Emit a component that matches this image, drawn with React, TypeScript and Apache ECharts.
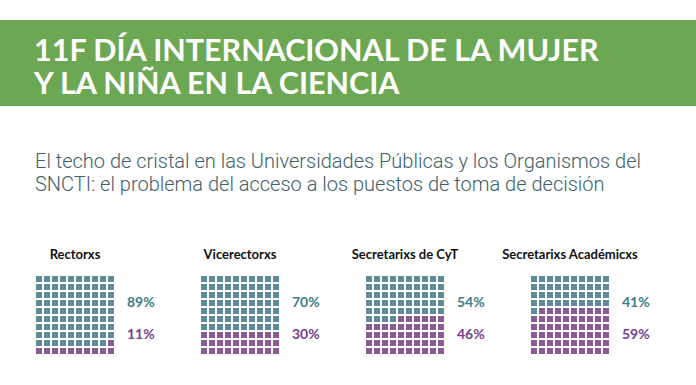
import React, { useEffect, useRef } from "react";
import * as echarts from "echarts";

const categories = ["Rectorxs", "Vicerectorxs", "Secretarixs de CyT", "Secretarixs Académicxs"];
const menPct = [89, 70, 54, 41];
const womenPct = [11, 30, 46, 59];
const titleLines = ["11F DÍA INTERNACIONAL DE LA MUJER", "Y LA NIÑA EN LA CIENCIA"];
const subtitleLines = [
  "El techo de cristal en las Universidades Públicas y los Organismos del",
  "SNCTI: el problema del acceso a los puestos de toma de decisión",
];

const TEAL = "#35707e";
const PURPLE = "#6b3579";
const TEAL_TEXT = "#3d7d8b";
const PURPLE_TEXT = "#773d8c";
const GREEN = "#6ca853";

export default function App() {
  const ref = useRef<HTMLDivElement>(null);
  useEffect(() => {
    if (!ref.current) return;
    const chart = echarts.init(ref.current, null, { renderer: "svg" });
    const grids: any[] = [];
    const xAxes: any[] = [];
    const yAxes: any[] = [];
    const series: any[] = [];
    const graphics: any[] = [];
    const gx0 = 35;
    const step = 165;
    const gTop = 275;
    const gSize = 80;
    categories.forEach((cat, i) => {
      const left = gx0 + i * step;
      grids.push({ left, top: gTop, width: gSize, height: gSize });
      xAxes.push({ type: "value", gridIndex: i, min: -0.5, max: 9.5, show: false });
      yAxes.push({ type: "value", gridIndex: i, min: -0.5, max: 9.5, show: false });
      const data: any[] = [];
      for (let r = 0; r < 10; r++) {
        for (let c = 0; c < 10; c++) {
          // r = 0 bottom row; fill women from bottom-right
          const k = r * 10 + (9 - c);
          const isWoman = k < womenPct[i];
          data.push({ value: [c, r], itemStyle: { color: isWoman ? PURPLE : TEAL } });
        }
      }
      series.push({
        type: "scatter",
        xAxisIndex: i,
        yAxisIndex: i,
        symbol: "rect",
        symbolSize: 6,
        data,
        silent: true,
      });
      graphics.push({
        type: "text",
        x: left + gSize / 2,
        y: 254,
        style: {
          text: cat,
          fill: "#111",
          font: "bold 13px Lato",
          textAlign: "center",
          textVerticalAlign: "middle",
        },
      });
      graphics.push({
        type: "text",
        x: left + 92,
        y: 301,
        style: {
          text: menPct[i] + "%",
          fill: TEAL_TEXT,
          font: "bold 14px Lato",
          textAlign: "left",
          textVerticalAlign: "middle",
        },
      });
      graphics.push({
        type: "text",
        x: left + 92,
        y: 333,
        style: {
          text: womenPct[i] + "%",
          fill: PURPLE_TEXT,
          font: "bold 14px Lato",
          textAlign: "left",
          textVerticalAlign: "middle",
        },
      });
    });
    graphics.unshift({
      type: "rect",
      shape: { x: 0, y: 20, width: 696, height: 86 },
      style: { fill: GREEN },
      z: -1,
    });
    titleLines.forEach((t, j) => {
      graphics.push({
        type: "text",
        x: 34,
        y: 49 + j * 33,
        style: {
          text: t,
          fill: "#ffffff",
          font: "bold 30.5px Lato",
          textAlign: "left",
          textVerticalAlign: "middle",
        },
      });
    });
    subtitleLines.forEach((t, j) => {
      graphics.push({
        type: "text",
        x: 35,
        y: 161 + j * 23,
        style: {
          text: t,
          fill: "#3e6068",
          font: "300 20px Roboto",
          textAlign: "left",
          textVerticalAlign: "middle",
        },
      });
    });
    chart.setOption({
      animation: false,
      backgroundColor: "#ffffff",
      grid: grids,
      xAxis: xAxes,
      yAxis: yAxes,
      series,
      graphic: graphics,
    });
    return () => chart.dispose();
  }, []);
  return (
    <div
      ref={ref}
      style={{ position: "fixed", left: 0, top: 0, width: 696, height: 385 }}
    />
  );
}
